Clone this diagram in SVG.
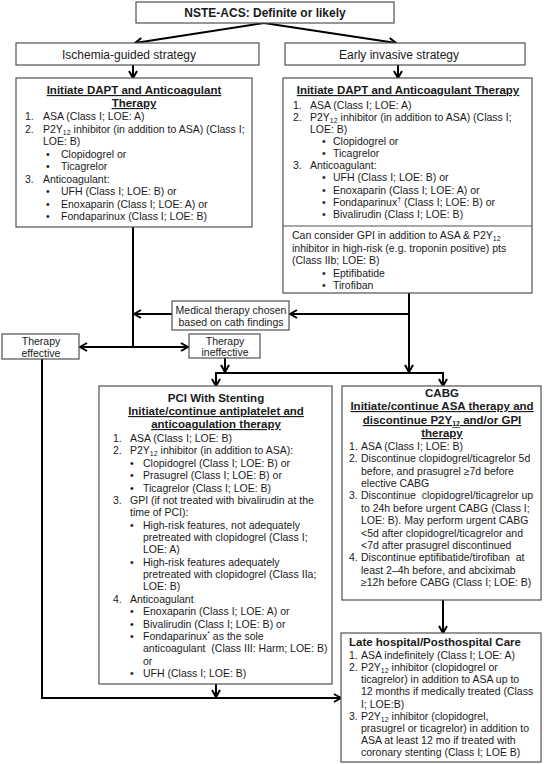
<svg xmlns="http://www.w3.org/2000/svg" width="546" height="764" viewBox="0 0 546 764">
<defs>
<style>
.box{fill:#fff;stroke:#505050;stroke-width:1.2}
text{font-family:"Liberation Sans",Arial,sans-serif;font-size:10.5px;fill:#1a1a1a}
.b{font-weight:bold;font-size:11.5px}
.u{text-decoration:underline}
.c{text-anchor:middle}
.h{font-size:12px}
.sub{font-size:7px}
.conn line,.conn polyline{stroke:#000;stroke-width:2;fill:none}
</style>
<marker id="ah" viewBox="0 0 10 10" refX="9" refY="5" markerWidth="10" markerHeight="10" markerUnits="userSpaceOnUse" orient="auto">
<path d="M2,1 L9,5 L2,9" fill="none" stroke="#000" stroke-width="2"/>
</marker>
</defs>
<rect width="546" height="764" fill="#fff"/>

<g id="connectors" class="conn">
<line x1="264" y1="23" x2="135" y2="43" marker-end="url(#ah)"/>
<line x1="264" y1="23" x2="396" y2="43" marker-end="url(#ah)"/>
<line x1="133" y1="65" x2="133" y2="78" marker-end="url(#ah)"/>
<line x1="398" y1="65" x2="398" y2="78" marker-end="url(#ah)"/>
<line x1="133" y1="227" x2="133" y2="347"/>
<line x1="133" y1="347" x2="80" y2="347" marker-end="url(#ah)"/>
<line x1="133" y1="347" x2="188" y2="347" marker-end="url(#ah)"/>
<line x1="172" y1="314" x2="134" y2="314" marker-end="url(#ah)"/>
<line x1="409" y1="293" x2="409" y2="372" marker-end="url(#ah)"/>
<line x1="409" y1="314" x2="290" y2="314" marker-end="url(#ah)"/>
<line x1="225" y1="358" x2="225" y2="372" marker-end="url(#ah)"/>
<line x1="215" y1="373" x2="444" y2="373"/>
<line x1="216" y1="373" x2="216" y2="386" marker-end="url(#ah)"/>
<line x1="443" y1="373" x2="443" y2="386" marker-end="url(#ah)"/>
<polyline points="42,359 42,698 341,698" marker-end="url(#ah)"/>
<line x1="216" y1="684" x2="216" y2="697" marker-end="url(#ah)"/>
<line x1="443" y1="600" x2="443" y2="633" marker-end="url(#ah)"/>
</g>

<g id="node-top">
<rect class="box" x="136" y="2" width="258" height="21"/>
<text class="b h c" x="265" y="17">NSTE-ACS: Definite or likely</text>
</g>

<g id="node-ischemia">
<rect class="box" x="16" y="43" width="243" height="22"/>
<text class="h c" x="129" y="59">Ischemia-guided strategy</text>
</g>

<g id="node-early">
<rect class="box" x="285" y="43" width="240" height="22"/>
<text class="h c" x="399" y="59">Early invasive strategy</text>
</g>

<g id="node-dapt-left">
<rect class="box" x="16" y="78" width="236" height="149"/>
<text class="b u c" x="134" y="94">Initiate DAPT and Anticoagulant</text>
<text class="b u c" x="134" y="107">Therapy</text>
<text x="25" y="120">1.</text><text x="43" y="120">ASA (Class I; LOE: A)</text>
<text x="25" y="132.5">2.</text><text x="43" y="132.5">P2Y<tspan class="sub" dy="2">12</tspan><tspan dy="-2"> inhibitor (in addition to ASA) (Class I;</tspan></text>
<text x="43" y="145">LOE: B)</text>
<text x="46" y="157.5">•</text><text x="61" y="157.5">Clopidogrel or</text>
<text x="46" y="170">•</text><text x="61" y="170">Ticagrelor</text>
<text x="25" y="182.5">3.</text><text x="43" y="182.5">Anticoagulant:</text>
<text x="46" y="195">•</text><text x="61" y="195">UFH (Class I; LOE: B) or</text>
<text x="46" y="207.5">•</text><text x="61" y="207.5">Enoxaparin (Class I; LOE: A) or</text>
<text x="46" y="220">•</text><text x="61" y="220">Fondaparinux (Class I; LOE: B)</text>
</g>

<g id="node-dapt-right">
<rect class="box" x="283" y="78" width="249" height="215"/>
<line x1="283" y1="226" x2="532" y2="226" stroke="#505050" stroke-width="1.2"/>
<text class="b u c" x="408" y="94">Initiate DAPT and Anticoagulant Therapy</text>
<text x="293" y="109">1.</text><text x="310" y="109">ASA (Class I; LOE: A)</text>
<text x="293" y="121">2.</text><text x="310" y="121">P2Y<tspan class="sub" dy="2">12</tspan><tspan dy="-2"> inhibitor (in addition to ASA) (Class I;</tspan></text>
<text x="310" y="133">LOE: B)</text>
<text x="322" y="145">•</text><text x="333" y="145">Clopidogrel or</text>
<text x="322" y="157">•</text><text x="333" y="157">Ticagrelor</text>
<text x="293" y="169">3.</text><text x="310" y="169">Anticoagulant:</text>
<text x="322" y="181">•</text><text x="333" y="181">UFH (Class I; LOE: B) or</text>
<text x="322" y="194">•</text><text x="333" y="194">Enoxaparin (Class I; LOE: A) or</text>
<text x="322" y="206">•</text><text x="333" y="206">Fondaparinux<tspan class="sub" dy="-4">†</tspan><tspan dy="4"> (Class I; LOE: B) or</tspan></text>
<text x="322" y="218">•</text><text x="333" y="218">Bivalirudin (Class I; LOE: B)</text>
<text x="292" y="239">Can consider GPI in addition to ASA &amp; P2Y<tspan class="sub" dy="2">12</tspan></text>
<text x="292" y="251.5">inhibitor in high-risk (e.g. troponin positive) pts</text>
<text x="292" y="264">(Class IIb; LOE: B)</text>
<text x="322" y="276.5">•</text><text x="333" y="276.5">Eptifibatide</text>
<text x="322" y="289">•</text><text x="333" y="289">Tirofiban</text>
</g>

<g id="node-medical">
<rect class="box" x="172" y="301" width="117" height="29"/>
<text class="c" x="231" y="314">Medical therapy chosen</text>
<text class="c" x="231" y="326">based on cath findings</text>
</g>

<g id="node-effective">
<rect class="box" x="2" y="334" width="77" height="25"/>
<text class="c" x="41" y="345">Therapy</text>
<text class="c" x="41" y="357">effective</text>
</g>

<g id="node-ineffective">
<rect class="box" x="189" y="334" width="71" height="24"/>
<text class="c" x="225" y="345">Therapy</text>
<text class="c" x="225" y="356">ineffective</text>
</g>

<g id="node-pci">
<rect class="box" x="99" y="386" width="233" height="298"/>
<text class="b c" x="216" y="402">PCI With Stenting</text>
<text class="b u c" x="216" y="415">Initiate/continue antiplatelet and</text>
<text class="b u c" x="216" y="428">anticoagulation therapy</text>
<text x="113" y="442">1.</text><text x="130" y="442">ASA (Class I; LOE: B)</text>
<text x="113" y="454.4">2.</text><text x="130" y="454.4">P2Y<tspan class="sub" dy="2">12</tspan><tspan dy="-2"> inhibitor (in addition to ASA):</tspan></text>
<text x="130" y="466.7">•</text><text x="143" y="466.7">Clopidogrel (Class I; LOE: B) or</text>
<text x="130" y="479.1">•</text><text x="143" y="479.1">Prasugrel (Class I; LOE: B) or</text>
<text x="130" y="491.5">•</text><text x="143" y="491.5">Ticagrelor (Class I; LOE: B)</text>
<text x="113" y="503.9">3.</text><text x="130" y="503.9">GPI (if not treated with bivalirudin at the</text>
<text x="130" y="516.2">time of PCI):</text>
<text x="130" y="528.6">•</text><text x="143" y="528.6">High-risk features, not adequately</text>
<text x="143" y="541">pretreated with clopidogrel (Class I;</text>
<text x="143" y="553.3">LOE: A)</text>
<text x="130" y="565.7">•</text><text x="143" y="565.7">High-risk features adequately</text>
<text x="143" y="578">pretreated with clopidogrel (Class IIa;</text>
<text x="143" y="590.4">LOE: B)</text>
<text x="113" y="602.8">4.</text><text x="130" y="602.8">Anticoagulant</text>
<text x="130" y="615.2">•</text><text x="143" y="615.2">Enoxaparin (Class I; LOE: A) or</text>
<text x="130" y="627.5">•</text><text x="143" y="627.5">Bivalirudin (Class I; LOE: B) or</text>
<text x="130" y="639.9">•</text><text x="143" y="639.9">Fondaparinux<tspan class="sub" dy="-4">*</tspan><tspan dy="4"> as the sole</tspan></text>
<text x="143" y="652.3" xml:space="preserve">anticoagulant  (Class III: Harm; LOE: B)</text>
<text x="143" y="664.6">or</text>
<text x="130" y="677">•</text><text x="143" y="677">UFH (Class I; LOE: B)</text>
</g>

<g id="node-cabg">
<rect class="box" x="342" y="386" width="199" height="214"/>
<text class="b c" x="442" y="397">CABG</text>
<text class="b u c" x="442" y="410">Initiate/continue ASA therapy and</text>
<text class="b u c" x="442" y="424">discontinue P2Y<tspan class="sub" dy="2">12</tspan><tspan dy="-2"> and/or GPI</tspan></text>
<text class="b u c" x="442" y="437">therapy</text>
<text x="349" y="450">1.</text><text x="361" y="450">ASA (Class I; LOE: B)</text>
<text x="349" y="462.4">2.</text><text x="361" y="462.4">Discontinue clopidogrel/ticagrelor 5d</text>
<text x="361" y="474.7">before, and prasugrel ≥7d before</text>
<text x="361" y="487.1">elective CABG</text>
<text x="349" y="499.4">3.</text><text x="361" y="499.4" xml:space="preserve">Discontinue  clopidogrel/ticagrelor up</text>
<text x="361" y="511.8">to 24h before urgent CABG (Class I;</text>
<text x="361" y="524.2">LOE: B). May perform urgent CABG</text>
<text x="361" y="536.5">&lt;5d after clopidogrel/ticagrelor and</text>
<text x="361" y="548.9">&lt;7d after prasugrel discontinued</text>
<text x="349" y="561.3">4.</text><text x="361" y="561.3" xml:space="preserve">Discontinue eptifibatide/tirofiban  at</text>
<text x="361" y="573.6">least 2–4h before, and abciximab</text>
<text x="361" y="586">≥12h before CABG (Class I; LOE: B)</text>
</g>

<g id="node-late">
<rect class="box" x="341" y="633" width="200" height="129"/>
<text class="b" x="349" y="646">Late hospital/Posthospital Care</text>
<text x="349" y="659">1.</text><text x="361" y="659">ASA indefinitely (Class I; LOE: A)</text>
<text x="349" y="671">2.</text><text x="361" y="671">P2Y<tspan class="sub" dy="2">12</tspan><tspan dy="-2"> inhibitor (clopidogrel or</tspan></text>
<text x="361" y="683">ticagrelor) in addition to ASA up to</text>
<text x="361" y="695">12 months if medically treated (Class</text>
<text x="361" y="707.5">I; LOE:B)</text>
<text x="349" y="719.5">3.</text><text x="361" y="719.5">P2Y<tspan class="sub" dy="2">12</tspan><tspan dy="-2"> inhibitor (clopidogrel,</tspan></text>
<text x="361" y="731.5">prasugrel or ticagrelor) in addition to</text>
<text x="361" y="744">ASA at least 12 mo if treated with</text>
<text x="361" y="756">coronary stenting (Class I; LOE B)</text>
</g>
</svg>
